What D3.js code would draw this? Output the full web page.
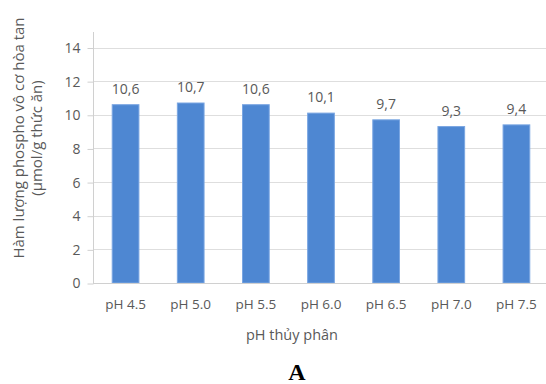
<!DOCTYPE html>
<html>
<head>
<meta charset="utf-8">
<script src="https://cdn.jsdelivr.net/npm/d3@7"></script>
<style>
  html, body { margin: 0; padding: 0; background: #fff; }
  svg { display: block; }
  text { font-family: "Open Sans", "Liberation Sans", sans-serif; fill: #595959; }
</style>
</head>
<body>
<svg id="chart" width="546" height="384"></svg>
<script>
// pH levels used for hydrolysis
const categories = ["pH 4.5", "pH 5.0", "pH 5.5", "pH 6.0", "pH 6.5", "pH 7.0", "pH 7.5"];
// Soluble inorganic phosphorus (µmol/g feed)
const values = [10.6, 10.7, 10.6, 10.1, 9.7, 9.3, 9.4];
const valueLabels = ["10,6", "10,7", "10,6", "10,1", "9,7", "9,3", "9,4"];
const yTicks = [0, 2, 4, 6, 8, 10, 12, 14];

const svg = d3.select("#chart");
const plot = { left: 93, right: 549, top: 32, bottom: 283 };

const x = d3.scaleBand()
  .domain(categories)
  .range([plot.left, plot.right])
  .paddingInner(0.59)
  .paddingOuter(0.295);

const y = d3.scaleLinear()
  .domain([0, 14])
  .range([plot.bottom, 47.5]);

// horizontal gridlines
svg.append("g")
  .selectAll("line")
  .data(yTicks.filter(d => d > 0))
  .join("line")
  .attr("x1", plot.left)
  .attr("x2", plot.right)
  .attr("y1", d => Math.round(y(d)) + 0.5)
  .attr("y2", d => Math.round(y(d)) + 0.5)
  .attr("stroke", "#dedede")
  .attr("stroke-width", 1);

// y axis with outward ticks
const yAxis = svg.append("g")
  .attr("transform", `translate(${plot.left + 0.5},0.5)`)
  .call(d3.axisLeft(y).tickValues(yTicks).tickSize(6).tickPadding(7));
yAxis.select(".domain").remove();
yAxis.selectAll(".tick line").attr("stroke", "#d0d0d0");
yAxis.selectAll(".tick text")
  .attr("font-size", 14)
  .style("font-family", "'Open Sans', sans-serif")
  .style("fill", "#595959");
svg.append("line")
  .attr("x1", plot.left + 0.5).attr("x2", plot.left + 0.5)
  .attr("y1", plot.top).attr("y2", plot.bottom + 0.5)
  .attr("stroke", "#d0d0d0");

// bars
svg.append("g")
  .selectAll("rect")
  .data(values)
  .join("rect")
  .attr("x", (d, i) => x(categories[i]))
  .attr("width", x.bandwidth())
  .attr("y", d => y(d))
  .attr("height", d => y(0) - y(d))
  .attr("fill", "#4e87d2")
  .attr("stroke", "#7aa6e2")
  .attr("stroke-width", 1);

// baseline
svg.append("line")
  .attr("x1", plot.left).attr("x2", plot.right)
  .attr("y1", plot.bottom + 0.5).attr("y2", plot.bottom + 0.5)
  .attr("stroke", "#d0d0d0");

// value labels
svg.append("g")
  .selectAll("text")
  .data(values)
  .join("text")
  .attr("x", (d, i) => x(categories[i]) + x.bandwidth() / 2)
  .attr("y", d => y(d) - 11)
  .attr("text-anchor", "middle")
  .attr("font-size", 14)
  .text((d, i) => valueLabels[i]);

// category labels
const xAxis = svg.append("g")
  .attr("transform", `translate(0,${plot.bottom})`)
  .call(d3.axisBottom(x).tickSize(0).tickPadding(16));
xAxis.select(".domain").remove();
xAxis.selectAll(".tick text")
  .attr("font-size", 13.5)
  .style("font-family", "'Open Sans', sans-serif")
  .style("fill", "#595959");

// axis titles
svg.append("text")
  .attr("x", 292)
  .attr("y", 340)
  .attr("text-anchor", "middle")
  .attr("font-size", 14.5)
  .text("pH thủy phân");

const yTitle = svg.append("text")
  .attr("transform", "translate(19,138) rotate(-90)")
  .attr("text-anchor", "middle")
  .attr("font-size", 15);
yTitle.append("tspan").attr("x", 0).attr("dy", "0.35em").text("Hàm lượng phospho vô cơ hòa tan");
yTitle.append("tspan").attr("x", 0).attr("dy", 18).text("(µmol/g thức ăn)");

// panel letter
svg.append("text")
  .attr("x", 297)
  .attr("y", 380)
  .attr("text-anchor", "middle")
  .style("font-family", "'Liberation Serif', 'Times New Roman', serif")
  .style("font-weight", "bold")
  .style("font-size", "24px")
  .style("fill", "#000")
  .text("A");
</script>
</body>
</html>
